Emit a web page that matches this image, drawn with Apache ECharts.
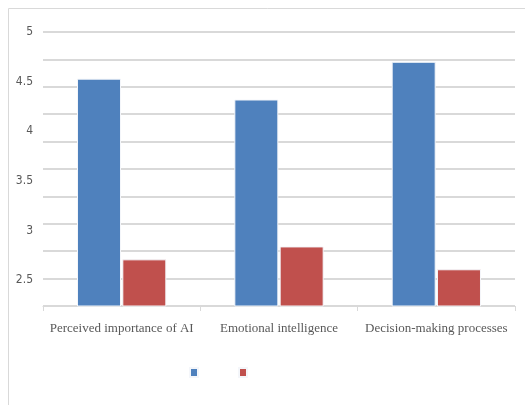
<!DOCTYPE html>
<html>
<head>
<meta charset="utf-8">
<script src="https://cdn.jsdelivr.net/npm/echarts@6/dist/echarts.min.js"></script>
<style>
  html, body { margin: 0; padding: 0; background: #fff; }
  #chart { width: 525px; height: 405px; }
</style>
</head>
<body>
<div id="chart"></div>
<script>
const categories = ['Perceived importance of AI', 'Emotional intelligence', 'Decision-making processes'];
const seriesA = [4.53, 4.32, 4.70];
const seriesB = [2.71, 2.84, 2.61];
const yLabels = [2.5, 3, 3.5, 4, 4.5, 5];

const chart = echarts.init(document.getElementById('chart'));

const option = {
  animation: false,
  graphic: [{
    type: 'rect',
    shape: { x: 8.5, y: 8.5, width: 540, height: 420 },
    style: { fill: 'none', stroke: '#d9d9d9', lineWidth: 1 }
  }],
  legend: {
    left: 189,
    top: 367,
    padding: 0,
    itemWidth: 8,
    itemHeight: 9,
    itemGap: 39,
    icon: 'rect',
    formatter: () => '',
    data: ['Series 1', 'Series 2']
  },
  grid: { left: 43, right: 10, top: 32, bottom: 99 },
  xAxis: {
    type: 'category',
    data: categories,
    axisLine: { lineStyle: { color: '#d9d9d9', width: 1 } },
    axisTick: { show: true, length: 5, lineStyle: { color: '#d9d9d9' } },
    axisLabel: {
      interval: 0,
      color: '#595959',
      fontFamily: 'Liberation Serif',
      fontSize: 13,
      margin: 16
    }
  },
  yAxis: [{
    type: 'value',
    min: 2.24,
    max: 5,
    axisLine: { show: false },
    axisTick: { show: false },
    splitLine: { show: false },
    axisLabel: {
      customValues: yLabels,
      color: '#595959',
      fontFamily: 'DejaVu Sans Condensed',
      fontSize: 12,
      margin: 10
    }
  }, {
    type: 'value',
    position: 'left',
    min: 0,
    max: 10,
    interval: 1,
    axisLine: { show: false },
    axisTick: { show: false },
    axisLabel: { show: false },
    splitLine: { lineStyle: { color: '#d9d9d9', width: 2 } }
  }],
  series: [{
    name: 'Series 1',
    type: 'bar',
    yAxisIndex: 0,
    data: seriesA,
    barWidth: 44,
    barGap: '3%',
    itemStyle: { color: '#4f81bd', borderColor: '#f4f6fa', borderWidth: 1 }
  }, {
    name: 'Series 2',
    type: 'bar',
    yAxisIndex: 0,
    data: seriesB,
    barWidth: 44,
    itemStyle: { color: '#c0504d', borderColor: '#f4f6fa', borderWidth: 1 }
  }]
};

chart.setOption(option);
</script>
</body>
</html>
